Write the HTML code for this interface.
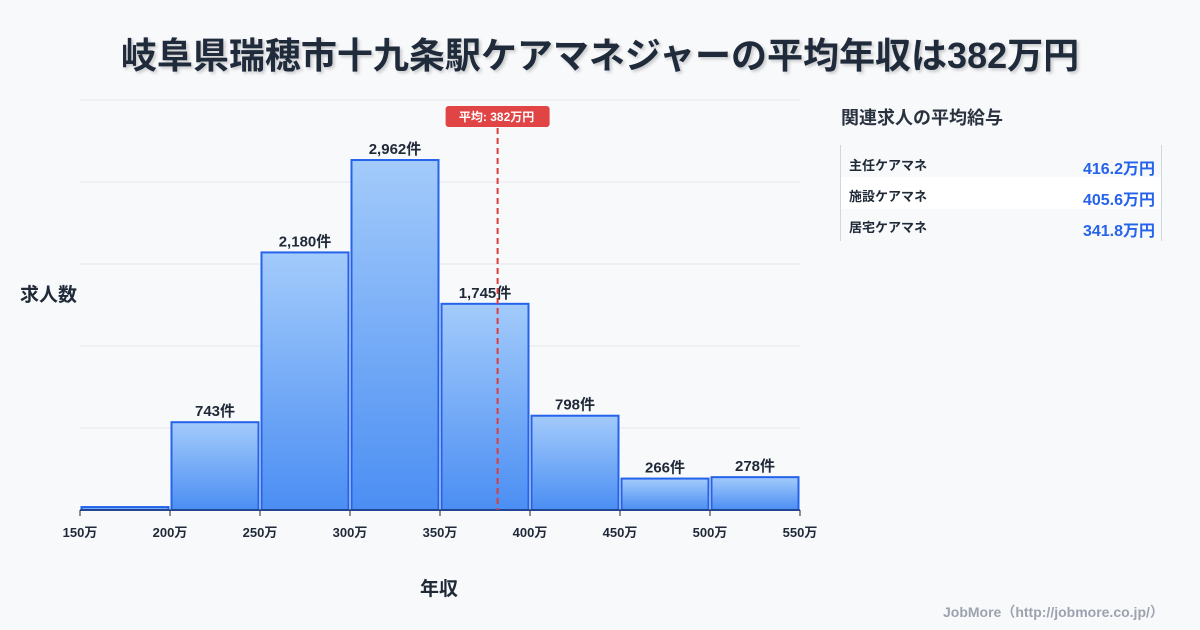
<!DOCTYPE html>
<html><head><meta charset="utf-8"><style>
body{margin:0;width:1200px;height:630px;background:#f8f9fb;font-family:"Liberation Sans","Noto Sans CJK JP",sans-serif;overflow:hidden;position:relative;color:#1f2937}
.t{position:absolute;white-space:nowrap}
</style></head><body>
<div class="t" style="left:0;width:1200px;top:27px;text-align:center;font-size:36px;font-weight:bold;color:#1f2a3a;text-shadow:2px 2px 3px rgba(0,0,0,0.2)">岐阜県瑞穂市十九条駅ケアマネジャーの平均年収は382万円</div>
<svg id="c" width="1200" height="630" style="position:absolute;left:0;top:0">
<defs><linearGradient id="g" x1="0" y1="0" x2="0" y2="1"><stop offset="0" stop-color="#a3cbfb"/><stop offset="1" stop-color="#4b8ef3"/></linearGradient></defs>
</svg>
<div class="t" style="left:20px;top:280px;font-size:19px;font-weight:bold">求人数</div>
<div class="t" style="left:420px;top:574px;font-size:19px;font-weight:bold">年収</div>
<div class="t" style="left:841px;top:104px;font-size:18px;font-weight:bold;color:#2a3240">関連求人の平均給与</div>
<div style="position:absolute;left:840px;top:145px;width:320px;height:96px;border-left:1px solid #cfd6e0;border-right:1px solid #cfd6e0">
<div style="height:32px;position:relative"><span class="t" style="left:8px;top:10px;font-size:13px;font-weight:bold">主任ケアマネ</span><span class="t" style="right:6px;top:10px;font-size:16px;font-weight:bold;color:#2563eb">416.2万円</span></div>
<div style="height:32px;position:relative;background:#fff"><span class="t" style="left:8px;top:9px;font-size:13px;font-weight:bold">施設ケアマネ</span><span class="t" style="right:6px;top:9px;font-size:16px;font-weight:bold;color:#2563eb">405.6万円</span></div>
<div style="height:32px;position:relative"><span class="t" style="left:8px;top:8px;font-size:13px;font-weight:bold">居宅ケアマネ</span><span class="t" style="right:6px;top:8px;font-size:16px;font-weight:bold;color:#2563eb">341.8万円</span></div>
</div>
<div class="t" style="left:943px;top:602px;font-size:14px;font-weight:bold;color:#9ca3af">JobMore（http://jobmore.co.jp/）</div>
<script>
const binStarts=[150,200,250,300,350,400,450,500];
const counts=[25,743,2180,2962,1745,798,266,278];
const labels=["","743件","2,180件","2,962件","1,745件","798件","266件","278件"];
const xTicks=[150,200,250,300,350,400,450,500,550];
const yGrid=[0,700,1400,2100,2800,3500];
const avg=382;
const NS="http://www.w3.org/2000/svg";
const svg=document.getElementById('c');
const X=v=>80+(v-150)*720/400;
const Y=v=>510-v*410/3470;
const YG=v=>510-v*410/3500;
function mk(t,a){const e=document.createElementNS(NS,t);for(const k in a)e.setAttribute(k,a[k]);svg.appendChild(e);return e;}
yGrid.forEach(v=>{const l=mk('line',{x1:80,x2:800,y1:YG(v),y2:YG(v),stroke:'#e3e7ee','stroke-width':1});

});
binStarts.forEach((b,i)=>{const x0=X(b)+1.5,x1=X(b+50)-1.5,y=Y(counts[i]);
const r=mk('rect',{x:x0,y:y,width:x1-x0,height:510-y,fill:'url(#g)',stroke:'#2563eb','stroke-width':2});


if(labels[i]){const t=mk('text',{x:(x0+x1)/2,y:y-6,'text-anchor':'middle','font-size':15,'font-weight':'bold',fill:'#1f2937'});t.textContent=labels[i];

}});
const ax=mk('line',{x1:80,x2:800,y1:510,y2:510,stroke:'#1f2937','stroke-width':1});


xTicks.forEach(v=>{const tk=mk('line',{x1:X(v),x2:X(v),y1:510,y2:516,stroke:'#1f2937'});


const t=mk('text',{x:X(v),y:537,'text-anchor':'middle','font-size':13,'font-weight':'bold',fill:'#1f2937'});t.textContent=v+'万';

});
const al=mk('line',{x1:X(avg),x2:X(avg),y1:128,y2:510,stroke:'#dc3c3c','stroke-width':2,'stroke-dasharray':'6,4'});


const ab=mk('rect',{x:X(avg)-52,y:106,width:104,height:21,rx:3,fill:'#e04444'});


const at=mk('text',{x:X(avg)-1,y:121,'text-anchor':'middle','font-size':12,'font-weight':'bold',fill:'#fff'});at.textContent='平均: '+avg+'万円';


</script>
</body></html>
